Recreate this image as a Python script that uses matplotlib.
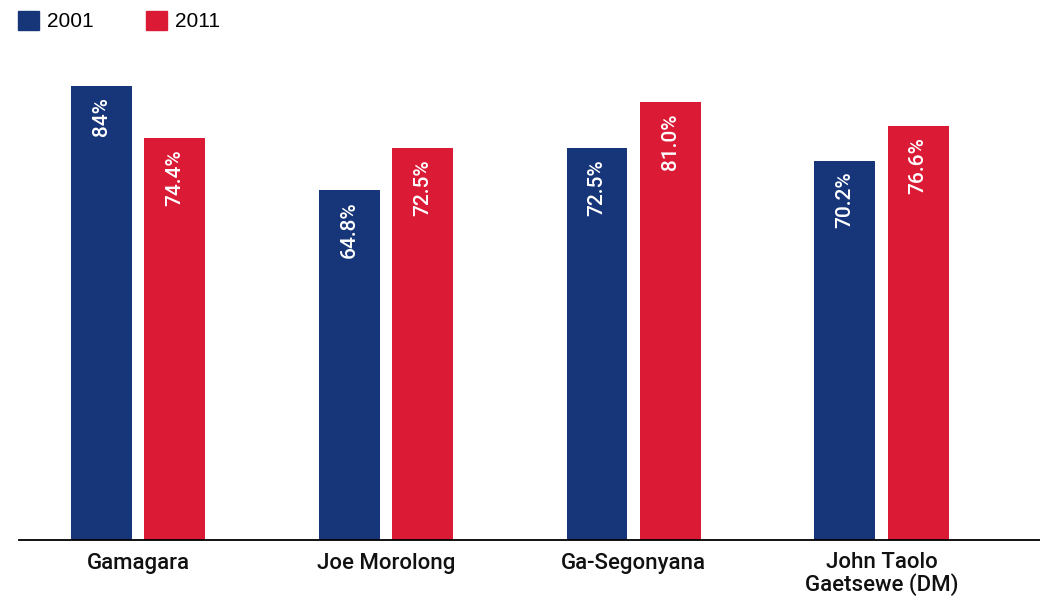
import numpy as np
import matplotlib.pyplot as plt
from matplotlib.patches import Patch

districts = ['Gamagara', 'Joe Morolong', 'Ga-Segonyana', 'John Taolo\nGaetsewe (DM)']
years = ['2001', '2011']
share2001 = [84.0, 64.8, 72.5, 70.2]
share2011 = [74.4, 72.5, 81.0, 76.6]
labels2001 = ['84%', '64.8%', '72.5%', '70.2%']
labels2011 = ['74.4%', '72.5%', '81.0%', '76.6%']

blue = '#17367a'
red = '#db1a35'

fig = plt.figure(figsize=(10.4, 6.0), dpi=100)
ax = fig.add_axes([19 / 1040, 0.1, 1 - 19 / 1040, 0.833])

x = np.arange(len(districts))
barWidth = 0.246
offset = 0.148

for vals, texts, color, sign in [(share2001, labels2001, blue, -1),
                                 (share2011, labels2011, red, 1)]:
    rects = ax.bar(x + sign * offset, vals, barWidth, color=color)
    for rect, txt in zip(rects, texts):
        ax.annotate(txt, (rect.get_x() + rect.get_width() / 2, rect.get_height()),
                    xytext=(0, -8), textcoords='offset points',
                    rotation=90, ha='center', va='top', color='white',
                    fontsize=15, fontfamily='Roboto', fontweight='medium')

ax.set_xlim(-0.481, 3.64)
ax.set_ylim(0, 92.5)
ax.set_xticks(x)
ax.set_xticklabels(districts, fontsize=16, fontfamily='Roboto',
                   fontweight='medium', color='#111111', linespacing=1.0)
ax.tick_params(axis='x', length=0, pad=9)
ax.set_yticks([])
for side in ['left', 'right', 'top']:
    ax.spines[side].set_visible(False)
ax.spines['bottom'].set_linewidth(1.3)

handles = [Patch(color=blue, label=years[0]), Patch(color=red, label=years[1])]
fig.legend(handles=handles, loc='upper left', bbox_to_anchor=(18 / 1040, 1 - 11 / 600),
           ncol=2, frameon=False, borderpad=0, borderaxespad=0,
           handlelength=1.0, handleheight=1.0,
           handletextpad=0.4, columnspacing=2.5,
           prop={'family': 'Liberation Sans', 'size': 15})

fig.savefig('out.png')
